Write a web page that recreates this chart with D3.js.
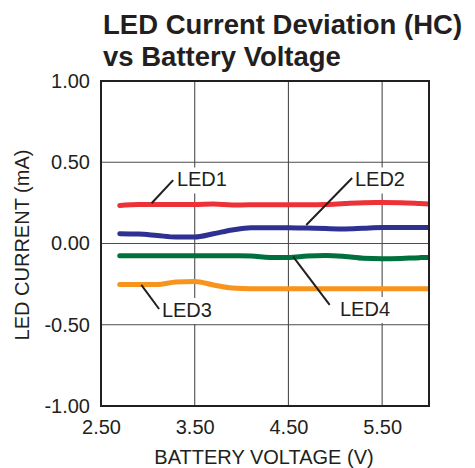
<!DOCTYPE html>
<html>
<head>
<meta charset="utf-8">
<script src="https://cdn.jsdelivr.net/npm/d3@7"></script>
<style>
html, body { margin: 0; padding: 0; background: #fff; }
svg { display: block; }
text { font-family: "Liberation Sans", Arial, sans-serif; fill: #231f20; }
</style>
</head>
<body>
<svg id="chart" width="475" height="468"></svg>
<script>
// ---- data ----
const voltages = [2.7, 2.9, 3.1, 3.3, 3.5, 3.7, 3.9, 4.1, 4.3, 4.5, 4.7, 4.9, 5.1, 5.3, 5.5, 5.7, 5.9, 6.0];
const led1 = [0.234, 0.240, 0.240, 0.240, 0.240, 0.243, 0.237, 0.238, 0.238, 0.238, 0.238, 0.240, 0.246, 0.251, 0.252, 0.251, 0.246, 0.243];
const led2 = [0.060, 0.058, 0.049, 0.040, 0.040, 0.060, 0.083, 0.097, 0.097, 0.097, 0.095, 0.092, 0.090, 0.094, 0.098, 0.098, 0.098, 0.098];
const led4 = [-0.076, -0.076, -0.076, -0.076, -0.076, -0.076, -0.076, -0.077, -0.086, -0.086, -0.077, -0.074, -0.080, -0.091, -0.094, -0.092, -0.087, -0.086];
const led3 = [-0.252, -0.252, -0.252, -0.237, -0.234, -0.255, -0.274, -0.279, -0.279, -0.279, -0.279, -0.279, -0.279, -0.279, -0.279, -0.279, -0.279, -0.279];
const seriesNames = ["LED1", "LED2", "LED4", "LED3"];
const seriesValues = [led1, led2, led4, led3];
const seriesColors = ["#ed3237", "#2e3192", "#00703c", "#f7941d"];
const xTicks = [2.5, 3.5, 4.5, 5.5];
const yTicks = [1.0, 0.5, 0.0, -0.5, -1.0];
const titleLines = ["LED Current Deviation (HC)", "vs Battery Voltage"];
const xLabel = "BATTERY VOLTAGE (V)";
const yLabel = "LED CURRENT (mA)";
// annotation: name, anchor (voltage, value) on curve, leader end, text position (data units)
const annoNames = ["LED1", "LED2", "LED3", "LED4"];
const annoStart = [[3.04, 0.248], [4.69, 0.114], [2.93, -0.255], [4.55, -0.081]];
const annoEnd = [[3.27, 0.39], [5.18, 0.403], [3.12, -0.403], [4.94, -0.378]];
const annoText = [[3.31, 0.351], [5.21, 0.351], [3.15, -0.452], [5.05, -0.446]];

// ---- drawing ----
const svg = d3.select("#chart");
const L = 101, R = 429, T = 81, B = 406;
const x = d3.scaleLinear().domain([2.5, 6.0]).range([L, R]);
const y = d3.scaleLinear().domain([-1, 1]).range([B, T]);
const fmt = v => d3.format(".2f")(v).replace("\u2212", "-");

// title
const title = svg.append("text").attr("x", 103).attr("y", 34)
  .style("font-size", "27.5px").style("font-weight", "bold");
titleLines.forEach((t, i) => {
  title.append("tspan").attr("x", 103).attr("y", 34 + i * 32).text(t);
});

// grid
const gridX = xTicks.filter(v => v > 2.5);
svg.append("g").selectAll("line").data(gridX).join("line")
  .attr("x1", d => x(d)).attr("x2", d => x(d)).attr("y1", T).attr("y2", B)
  .attr("stroke", "#4d4d4d").attr("stroke-width", 1.1);
const gridY = yTicks.filter(v => v > -1 && v < 1);
svg.append("g").selectAll("line").data(gridY).join("line")
  .attr("y1", d => y(d)).attr("y2", d => y(d)).attr("x1", L).attr("x2", R)
  .attr("stroke", "#4d4d4d").attr("stroke-width", 1.1);

// axes (labels only, via d3 axes)
const xAxis = svg.append("g").attr("transform", `translate(0,${B})`)
  .call(d3.axisBottom(x).tickValues(xTicks).tickFormat(fmt).tickSize(0).tickPadding(14));
xAxis.select(".domain").remove();
xAxis.selectAll("text").style("font-size", "20px").attr("fill", "#231f20");
const yAxis = svg.append("g").attr("transform", `translate(${L},0)`)
  .call(d3.axisLeft(y).tickValues(yTicks).tickFormat(fmt).tickSize(0).tickPadding(11));
yAxis.select(".domain").remove();
yAxis.selectAll("text").style("font-size", "20px").attr("fill", "#231f20");

// axis titles
svg.append("text").attr("x", 264).attr("y", 464).attr("text-anchor", "middle")
  .style("font-size", "20px").text(xLabel);
svg.append("text").attr("transform", "translate(29,245) rotate(-90)").attr("text-anchor", "middle")
  .style("font-size", "20px").text(yLabel);

// annotation label backgrounds (white boxes over grid)
const annoG = svg.append("g");
annoNames.forEach((n, i) => {
  const t = annoG.append("text").attr("x", x(annoText[i][0])).attr("y", y(annoText[i][1]))
    .style("font-size", "20px").text(n);
  const bb = t.node().getBBox();
  annoG.insert("rect", "text").attr("x", bb.x - 3).attr("y", bb.y - 1)
    .attr("width", bb.width + 6).attr("height", bb.height + 4).attr("fill", "#fff");
});

// series lines
svg.append("clipPath").attr("id", "plotclip").append("rect")
  .attr("x", L - 10).attr("y", T).attr("width", R - L + 10).attr("height", B - T);
const line = d3.line().x(d => x(d[0])).y(d => y(d[1])).curve(d3.curveMonotoneX);
const lg = svg.append("g").attr("clip-path", "url(#plotclip)");
seriesValues.forEach((vals, i) => {
  lg.append("path").datum(voltages.map((v, j) => [v, vals[j]]))
    .attr("d", line).attr("fill", "none").attr("stroke", seriesColors[i])
    .attr("stroke-width", 5).attr("stroke-linecap", "round").attr("stroke-linejoin", "round");
});

// leader lines
svg.append("g").selectAll("line").data(annoNames.map((n, i) => i)).join("line")
  .attr("x1", i => x(annoStart[i][0])).attr("y1", i => y(annoStart[i][1]))
  .attr("x2", i => x(annoEnd[i][0])).attr("y2", i => y(annoEnd[i][1]))
  .attr("stroke", "#231f20").attr("stroke-width", 2);

// frame
svg.append("rect").attr("x", L).attr("y", T).attr("width", R - L).attr("height", B - T)
  .attr("fill", "none").attr("stroke", "#231f20").attr("stroke-width", 2);
</script>
</body>
</html>
